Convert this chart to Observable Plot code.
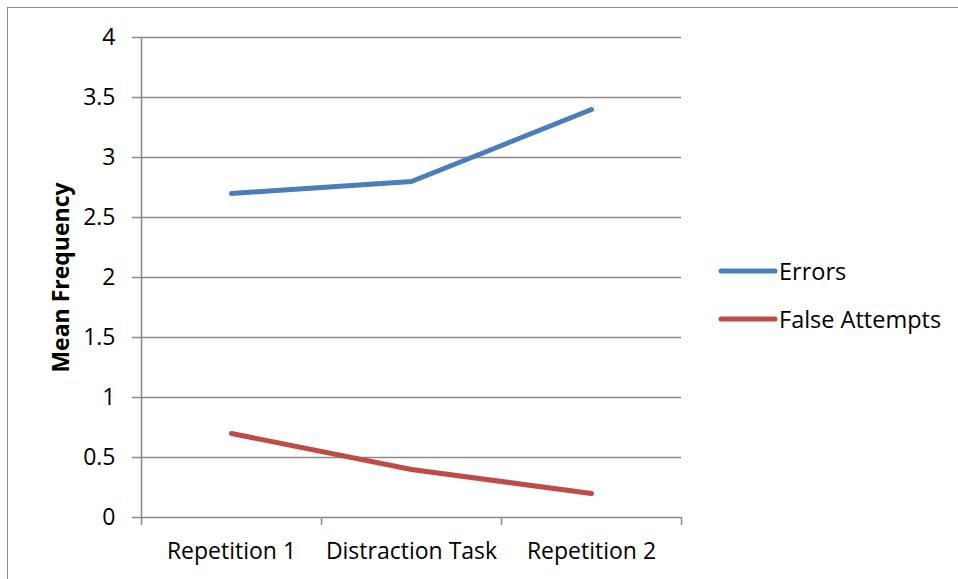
<!DOCTYPE html>
<html>
<head>
<meta charset="utf-8">
<script src="https://cdn.jsdelivr.net/npm/d3@7"></script>
<script src="https://cdn.jsdelivr.net/npm/@observablehq/plot@0.6"></script>
<style>
  body { margin: 0; background: #fff; }
  #chart { position: relative; width: 958px; height: 579px; overflow: hidden; font-family: "Open Sans", sans-serif; }
  #frame { position: absolute; left: 7px; top: 7px; width: 1000px; height: 1000px; border: 1.5px solid #8c8c8c; pointer-events: none; }
  #legend { position: absolute; left: 718px; top: 253px; font-size: 23.5px; color: #000; }
  .item { display: flex; align-items: center; height: 36px; margin-bottom: 12px; }
  .item svg { display: block; margin-right: 1px; }
</style>
</head>
<body>
<div id="chart"><div id="frame"></div><div id="legend"></div></div>
<script>
// Mean frequency per phase
const categories = ["Repetition 1", "Distraction Task", "Repetition 2"];
const errors = [2.7, 2.8, 3.4];
const falseAttempts = [0.7, 0.4, 0.2];
const yTicks = [0, 0.5, 1, 1.5, 2, 2.5, 3, 3.5, 4];
const seriesNames = ["Errors", "False Attempts"];
const seriesColors = ["#4a7ebb", "#be4b48"];
const gridColor = "#8a8a8a";

const rows = categories.flatMap((c, i) => [
  {series: seriesNames[0], i, value: errors[i]},
  {series: seriesNames[1], i, value: falseAttempts[i]}
]);
// category boundaries for the x tick marks
const bounds = d3.range(categories.length + 1).map(k => k - 0.5);
const xDomain = [-0.5, categories.length - 0.5];

const chart = Plot.plot({
  width: 958,
  height: 579,
  marginLeft: 141,
  marginRight: 277,
  marginTop: 37,
  marginBottom: 62,
  style: {fontFamily: '"Open Sans", sans-serif', fontSize: "23px", color: "#000", background: "transparent"},
  x: {domain: xDomain},
  y: {domain: [0, 4]},
  color: {domain: seriesNames, range: seriesColors},
  marks: [
    Plot.ruleY(yTicks, {x1: xDomain[0], x2: xDomain[1], stroke: gridColor, strokeWidth: 1.5}),
    Plot.ruleX([xDomain[0]], {y1: 0, y2: 4, stroke: gridColor, strokeWidth: 1.5}),
    Plot.axisY({ticks: yTicks, tickSize: 9, tickPadding: 17, tickFormat: d => String(d), fontSize: 23, stroke: gridColor, strokeWidth: 1.5, fill: "#000", label: null}),
    Plot.axisX({ticks: bounds, tickSize: 8, tickFormat: () => "", stroke: gridColor, strokeWidth: 1.5, label: null}),
    Plot.axisX({ticks: d3.range(categories.length), tickSize: 0, tickPadding: 25, tickFormat: i => categories[i], fontSize: 23, fill: "#000", label: null}),
    Plot.text(["Mean Frequency"], {frameAnchor: "left", dx: -80, rotate: -90, textAnchor: "middle", fontSize: 23, fontWeight: "bold", fill: "#000"}),
    Plot.line(rows, {x: "i", y: "value", z: "series", stroke: "series", strokeWidth: 5, strokeLinecap: "round", strokeLinejoin: "round"})
  ]
});
document.getElementById("chart").prepend(chart);

// legend
const legend = d3.select("#legend");
seriesNames.forEach((name, k) => {
  const item = legend.append("div").attr("class", "item");
  const sw = item.append("svg").attr("width", 60).attr("height", 10);
  sw.append("line").attr("x1", 3).attr("x2", 57).attr("y1", 5).attr("y2", 5)
    .attr("stroke", seriesColors[k]).attr("stroke-width", 5).attr("stroke-linecap", "round");
  item.append("span").text(name);
});
</script>
</body>
</html>
